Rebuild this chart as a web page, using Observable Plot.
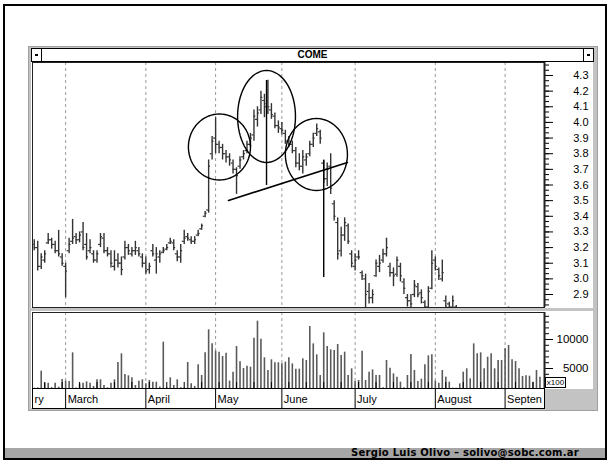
<!DOCTYPE html>
<html><head><meta charset="utf-8">
<script src="https://cdn.jsdelivr.net/npm/d3@7"></script>
<script src="https://cdn.jsdelivr.net/npm/@observablehq/plot@0.6"></script>
<style>
html,body{margin:0;padding:0;background:#fff;}
#wrap{position:relative;width:610px;height:461px;overflow:hidden;font-family:"Liberation Sans",Arial,sans-serif;}
.a{position:absolute;box-sizing:border-box;}
#outer{left:3px;top:4px;width:604px;height:456px;border:2px solid #000;}
#footer{left:5px;top:448px;width:600px;height:10px;background:#a6a6a6;font:bold 10px "DejaVu Sans",Verdana,sans-serif;letter-spacing:0.25px;text-align:right;padding-right:26px;line-height:10px;color:#000;white-space:nowrap;}
#win{left:28px;top:46px;width:570px;height:365px;background:#c3c3c3;border:1px solid #a0a0a0;}
#title{left:31px;top:48px;width:563px;height:14px;background:#fff;border:1px solid #000;text-align:center;font:bold 10px "Liberation Sans",Arial,sans-serif;line-height:12px;}
.btn{top:48px;width:11px;height:14px;border:1px solid #000;background:#fff;}
.btn i{position:absolute;left:3px;top:5px;width:3px;height:2px;background:#000;}
#x100{left:545px;top:377px;width:21px;height:11px;border:1px solid #000;background:#fff;font:8px "Liberation Sans",Arial,sans-serif;line-height:9px;text-align:center;}
svg{display:block;}
</style></head>
<body>
<div id="wrap">
  <div class="a" id="outer"></div>
  <div class="a" id="footer">Sergio Luis Olivo – solivo@sobc.com.ar</div>
  <div class="a" id="win"></div>
  <div class="a" id="title">COME</div>
  <div class="a btn" style="left:31px"><i></i></div>
  <div class="a btn" style="left:583px"><i></i></div>
</div>
<script>
// ---- data (trading-day index 0..145, late Feb .. Sep) ----
const highs = [
3.25,3.24,3.16,3.18,3.29,3.26,3.24,3.31,3.16,
3.10,3.26,3.38,3.29,3.30,3.36,3.29,3.25,3.18,3.18,
3.29,3.29,3.20,3.18,3.18,3.16,3.14,3.24,3.22,3.20,
3.24,3.20,3.16,
3.14,3.10,3.22,3.20,3.18,3.20,3.22,3.26,3.25,3.18,
3.22,3.31,3.29,3.27,3.27,3.31,3.35,3.43,3.76,3.91,
4.03,3.88,3.86,3.82,3.80,3.76,3.71,3.78,3.82,3.88,
3.93,4.08,4.10,4.20,4.18,4.27,4.12,4.06,4.01,4.00,
3.95,3.91,3.88,3.84,3.80,3.82,3.80,3.88,3.93,3.99,
3.95,3.76,3.74,3.80,3.50,3.39,3.33,3.39,3.35,3.18,
3.16,3.18,3.05,3.03,2.97,2.93,3.12,3.15,3.19,3.26,
3.10,3.07,3.14,3.10,3.00,2.90,2.90,2.99,2.97,2.93,
2.86,2.95,3.18,3.14,3.07,3.12,2.89,2.85,2.89,2.83,
2.78,2.77,2.76,2.78,2.77,2.75,2.74,2.76,2.77,2.75,
2.76,2.78,2.77,2.79,2.82,2.78,2.76,2.75,2.77,2.76,
2.75,2.74,2.76,2.75];
const lows = [
3.18,3.05,3.06,3.10,3.22,3.19,3.16,3.14,3.08,
2.88,3.16,3.22,3.22,3.23,3.18,3.12,3.16,3.10,3.10,
3.20,3.16,3.14,3.07,3.05,3.07,3.02,3.12,3.15,3.14,
3.15,3.14,3.07,
3.03,3.03,3.14,3.03,3.10,3.16,3.18,3.22,3.18,3.11,
3.10,3.22,3.24,3.22,3.22,3.27,3.31,3.39,3.42,3.76,
3.80,3.80,3.76,3.74,3.72,3.67,3.54,3.70,3.76,3.80,
3.84,3.88,3.97,4.05,4.03,4.05,4.02,3.96,3.93,3.92,
3.86,3.84,3.80,3.71,3.69,3.67,3.72,3.78,3.84,3.91,
3.86,3.61,3.59,3.54,3.37,3.12,3.14,3.24,3.22,3.07,
3.05,3.12,2.99,2.78,2.84,2.84,3.01,3.04,3.10,3.14,
3.01,2.95,3.01,2.98,2.90,2.82,2.80,2.88,2.88,2.84,
2.80,2.80,2.93,3.05,2.99,2.98,2.78,2.79,2.80,2.78,
2.70,2.69,2.68,2.70,2.69,2.67,2.66,2.68,2.69,2.67,
2.68,2.70,2.69,2.71,2.76,2.70,2.68,2.67,2.69,2.68,
2.67,2.66,2.68,2.67];
const opens = [
3.22,3.20,3.08,3.12,3.23,3.25,3.22,3.18,3.14,
3.08,3.18,3.24,3.27,3.25,3.30,3.22,3.18,3.16,3.12,
3.22,3.26,3.18,3.16,3.08,3.12,3.10,3.14,3.20,3.16,
3.18,3.18,3.14,
3.10,3.06,3.18,3.12,3.14,3.17,3.19,3.23,3.23,3.16,
3.14,3.24,3.27,3.25,3.24,3.28,3.32,3.40,3.44,3.80,
3.90,3.86,3.84,3.80,3.78,3.74,3.70,3.72,3.78,3.82,
3.86,3.92,4.02,4.08,4.14,4.12,4.08,4.04,3.98,3.96,
3.93,3.88,3.86,3.82,3.74,3.72,3.76,3.80,3.86,3.93,
3.94,3.74,3.64,3.72,3.48,3.36,3.18,3.28,3.34,3.16,
3.08,3.14,3.04,3.00,2.92,2.88,3.02,3.08,3.12,3.16,
3.08,3.04,3.03,3.08,2.98,2.88,2.86,2.90,2.95,2.91,
2.85,2.82,2.94,3.12,3.06,3.00,2.86,2.84,2.82,2.82,
2.74,2.72,2.70,2.74,2.72,2.70,2.70,2.72,2.73,2.70,
2.72,2.74,2.72,2.75,2.80,2.74,2.71,2.70,2.73,2.72,
2.70,2.70,2.72,2.70];
const closes = [
3.20,3.08,3.14,3.16,3.25,3.22,3.18,3.16,3.10,
3.05,3.22,3.26,3.25,3.28,3.20,3.14,3.20,3.12,3.16,
3.27,3.18,3.16,3.10,3.12,3.10,3.06,3.20,3.18,3.18,
3.20,3.16,3.10,
3.05,3.08,3.16,3.16,3.16,3.18,3.20,3.24,3.20,3.14,
3.18,3.26,3.26,3.24,3.25,3.29,3.34,3.42,3.72,3.88,
3.86,3.84,3.80,3.78,3.76,3.70,3.66,3.76,3.80,3.86,
3.90,4.04,4.06,4.16,4.10,4.10,4.05,3.98,3.97,3.95,
3.88,3.86,3.82,3.74,3.72,3.78,3.78,3.86,3.90,3.96,
3.90,3.64,3.70,3.58,3.40,3.16,3.28,3.36,3.24,3.10,
3.12,3.14,3.02,2.90,2.88,2.90,3.10,3.10,3.16,3.20,
3.04,3.02,3.12,3.02,2.94,2.86,2.84,2.96,2.90,2.88,
2.82,2.92,3.10,3.08,3.02,3.04,2.82,2.82,2.86,2.80,
2.72,2.70,2.73,2.72,2.70,2.72,2.71,2.73,2.70,2.72,
2.74,2.72,2.75,2.77,2.78,2.71,2.70,2.72,2.71,2.70,
2.71,2.72,2.70,2.71];
// volume, in hundreds of shares (axis "x100")
const volumes = [
1600,1650,4540,2470,2470,1700,2470,1780,3100,2820,
2760,7700,1650,2350,2470,2700,2470,1900,3050,3050,
2070,1670,2470,3050,6030,7530,3970,3740,3390,2070,
2820,3050,2350,2930,2640,2640,1800,9540,1670,3390,
2070,3050,1700,1670,6030,2350,1900,5630,3790,7700,
11670,9250,7990,7820,7070,7640,2820,4370,8790,6150,
5000,5400,5230,10230,13160,10060,6840,4660,6500,5980,
5980,5800,6090,6840,5800,4890,4890,6670,6380,12240,
9250,7360,3790,11150,8790,8220,8100,9140,7240,7820,
3790,4940,2760,2930,7990,2930,4370,4770,3790,3790,
1700,6380,5060,4080,3510,2640,1670,3790,7410,4660,
2760,3160,5630,7180,7360,2820,2470,4660,3510,2640,
1610,1600,2350,4370,4940,3220,9250,7530,7700,4940,
6950,7530,4940,6380,6380,8390,8970,6500,6210,4940,
3620,3740,3680,2640,4660,3510];
// month boundaries (index of first trading day) and labels
const monthStarts = [9, 32, 52, 71, 92, 115, 135];
const monthLabelStarts = [-0.5, 9, 32, 52, 71, 92, 115, 135];
const monthNames = ["ry", "March", "April", "May", "June", "July", "August", "Septen"];
// axis ticks
const priceTicks = [4.3, 4.2, 4.1, 4.0, 3.9, 3.8, 3.7, 3.6, 3.5, 3.4, 3.3, 3.2, 3.1, 3.0, 2.9];
const volumeTicks = [5000, 10000];
// head-and-shoulders annotation (centre index, centre price, half-width in days, half-height in price)
const ovalCentreIdx = [53.1, 66.6, 80.9];
const ovalCentrePrice = [3.843, 4.038, 3.795];
const ovalHalfWidth = [8.9, 8.3, 8.9];
const ovalHalfHeight = [0.211, 0.294, 0.230];
const necklineIdx = [55.7, 89.8];
const necklinePrice = [3.501, 3.744];
const targetIdx = [66.6, 83.0];
const targetFrom = [4.268, 3.757];
const targetTo = [3.597, 3.009];

// ---- build tables ----
const bars = highs.map((h, i) => ({i, high: h, low: lows[i], open: opens[i], close: closes[i]}));
const vols = volumes.map((v, i) => ({i, v}));
const ovals = ovalCentreIdx.flatMap((ci, k) => d3.range(0, 73).map(j => {
  const t = j / 72 * 2 * Math.PI;
  return {k, i: ci + ovalHalfWidth[k] * Math.cos(t), p: ovalCentrePrice[k] + ovalHalfHeight[k] * Math.sin(t)};
}));
const neck = necklineIdx.map((i, k) => ({i, p: necklinePrice[k]}));
const targets = targetIdx.map((i, k) => ({i, from: targetFrom[k], to: targetTo[k]}));
const months = monthNames.map((name, k) => ({name, start: monthLabelStarts[k]}));
const priceMinor = d3.range(0, 47).map(k => 2.8333 + k / 30);
const volMinor = d3.range(2000, 15000, 1000);
const weekTicks = d3.range(3, 146, 5);

const X = {domain: [-0.5, 146.3], axis: null};
const st = {background: "#fff", color: "#000", fontFamily: "Liberation Sans, Arial, sans-serif", fontSize: "11px", overflow: "visible"};
const grid = {stroke: "#9a9a9a", strokeDasharray: "3,3", strokeWidth: 1};

const price = Plot.plot({
  width: 562, height: 246, marginLeft: 1, marginRight: 49, marginTop: 0, marginBottom: 1,
  style: st, x: X, y: {domain: [2.817, 4.383], axis: null},
  marks: [
    Plot.ruleX(monthStarts, {x: d => d, ...grid}),
    Plot.ruleX(bars, {x: "i", y1: "low", y2: "high", stroke: "#333", strokeWidth: 1.4, clip: true}),
    Plot.ruleY(bars, {y: "open", x1: d => d.i - 0.55, x2: "i", stroke: "#333", strokeWidth: 1.2, clip: true}),
    Plot.ruleY(bars, {y: "close", x1: "i", x2: d => d.i + 0.55, stroke: "#333", strokeWidth: 1.2, clip: true}),
    Plot.line(ovals, {x: "i", y: "p", z: "k", stroke: "#000", strokeWidth: 1.4}),
    Plot.line(neck, {x: "i", y: "p", stroke: "#000", strokeWidth: 1.6}),
    Plot.ruleX(targets, {x: "i", y1: "from", y2: "to", stroke: "#000", strokeWidth: 1.4}),
    Plot.axisY({anchor: "right", ticks: priceMinor, tickSize: 4, tickFormat: () => "", label: null, stroke: "#000"}),
    Plot.axisY({anchor: "right", ticks: priceTicks, tickSize: 8, tickPadding: 36, tickFormat: d3.format(".1f"), textAnchor: "end", label: null, stroke: "#000", fontSize: 11}),
    Plot.ruleX([146.3], {x: d => d, stroke: "#222", strokeWidth: 2}),
    Plot.frame({stroke: "#222"})
  ]
});

const volume = Plot.plot({
  width: 562, height: 78, marginLeft: 1, marginRight: 49, marginTop: 1, marginBottom: 1,
  style: st, x: X, y: {domain: [1552, 14655], axis: null},
  marks: [
    Plot.ruleX(monthStarts, {x: d => d, ...grid}),
    Plot.ruleX(vols, {x: "i", y: "v", stroke: "#5a5a5a", strokeWidth: 1.6, clip: true}),
    Plot.ruleX(weekTicks, {x: d => d, insetTop: 70, stroke: "#000"}),
    Plot.axisY({anchor: "right", ticks: volMinor, tickSize: 4, tickFormat: () => "", label: null, stroke: "#000"}),
    Plot.axisY({anchor: "right", ticks: volumeTicks, tickSize: 8, tickPadding: 36, tickFormat: d => String(d), textAnchor: "end", label: null, stroke: "#000", fontSize: 11.5}),
    Plot.ruleX([146.3], {x: d => d, stroke: "#222", strokeWidth: 2}),
    Plot.frame({stroke: "#222"})
  ]
});

const labels = Plot.plot({
  width: 514, height: 20, marginLeft: 1, marginRight: 1, marginTop: 0, marginBottom: 0,
  style: st, x: X,
  marks: [
    Plot.ruleX(monthStarts, {x: d => d, stroke: "#000"}),
    Plot.text(months, {x: "start", text: "name", textAnchor: "start", dx: 2, dy: 1, fontSize: 11, fill: "#000"}),
    Plot.frame({stroke: "#000"})
  ]
});

const wrap = document.getElementById("wrap");
function place(node, left, top, w) {
  const d = document.createElement("div");
  d.className = "a";
  d.style.left = left + "px"; d.style.top = top + "px"; d.style.width = w + "px";
  d.appendChild(node);
  wrap.appendChild(d);
}
place(price, 31, 62, 562);
place(volume, 31, 311, 562);
place(labels, 31, 388, 514);
const xb = document.createElement("div");
xb.className = "a"; xb.id = "x100"; xb.textContent = "x100";
wrap.appendChild(xb);
</script>
</body></html>
